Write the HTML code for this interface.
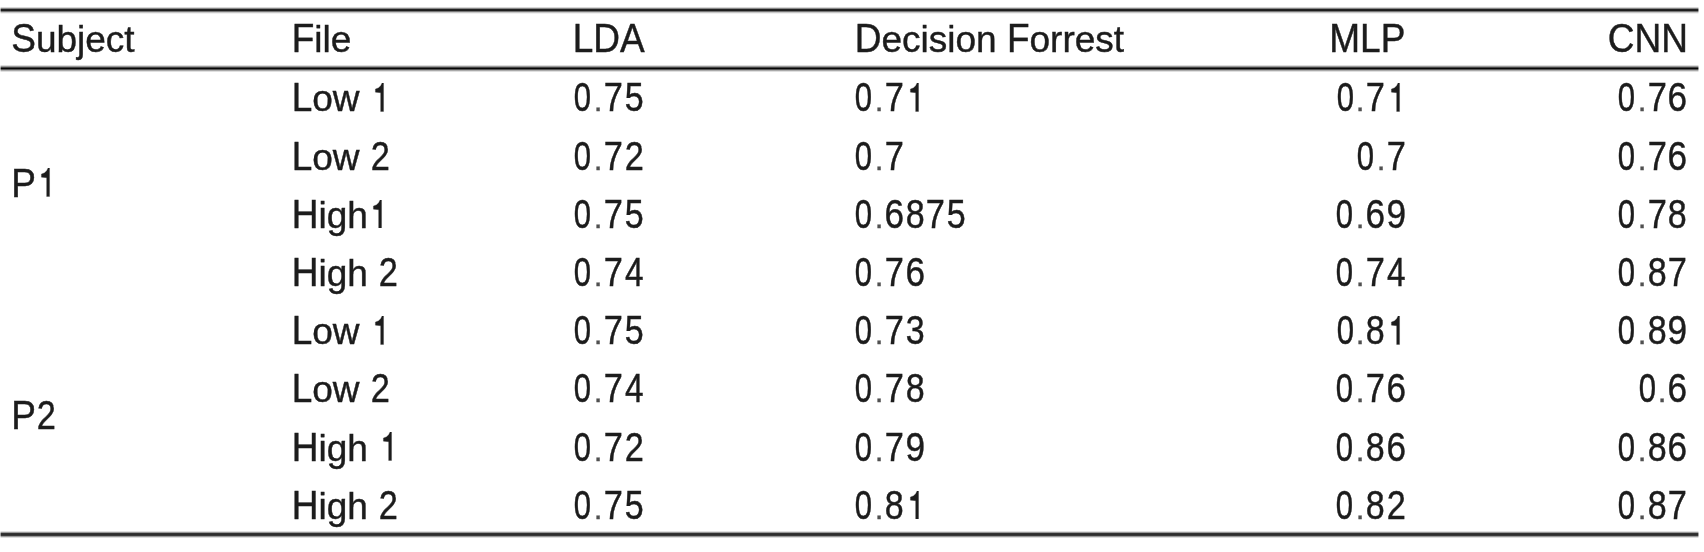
<!DOCTYPE html>
<html><head><meta charset="utf-8"><style>
html,body{margin:0;padding:0;background:#fff;width:1704px;height:552px;overflow:hidden;position:relative}
.t{position:absolute;font-family:"Liberation Sans",sans-serif;font-size:37px;line-height:40px;color:#1c1c1c;white-space:nowrap;font-kerning:none;-webkit-text-stroke:0.42px #1c1c1c;filter:blur(0.7px);}
.d{color:#505050;-webkit-text-stroke-color:#505050;display:inline-block;transform:scale(0.85);transform-origin:50% 31.320px}
.g,.c{display:inline-block;transform-origin:50% 32.820px}
.g{transform:scale(var(--sx),1.08)}
.c{transform:scaleY(var(--sy,1.075))}
.one{display:inline-block;vertical-align:-0.4px;fill:#1c1c1c;stroke:#1c1c1c;stroke-width:13.9px}
.ln{position:absolute;left:0;width:1699px}
.ov{position:absolute;width:1px;background:rgba(255,255,255,0.55)}
</style></head><body>
<div class="ln" style="top:7px;height:7px;background:linear-gradient(to bottom, rgb(216,216,216) 0px, rgb(216,216,216) 1px, rgb(136,136,136) 1px, rgb(136,136,136) 2px, rgb(34,34,34) 2px, rgb(34,34,34) 3px, rgb(30,30,30) 3px, rgb(30,30,30) 4px, rgb(119,119,119) 4px, rgb(119,119,119) 5px, rgb(200,200,200) 5px, rgb(200,200,200) 6px, rgb(240,240,240) 6px, rgb(240,240,240) 7px)"></div>
<div class="ov" style="left:0;top:7px;height:7px"></div>
<div class="ov" style="left:1698px;top:7px;height:7px"></div>
<div class="ln" style="top:65px;height:7px;background:linear-gradient(to bottom, rgb(220,220,220) 0px, rgb(220,220,220) 1px, rgb(153,153,153) 1px, rgb(153,153,153) 2px, rgb(68,68,68) 2px, rgb(68,68,68) 3px, rgb(5,5,5) 3px, rgb(5,5,5) 4px, rgb(85,85,85) 4px, rgb(85,85,85) 5px, rgb(170,170,170) 5px, rgb(170,170,170) 6px, rgb(224,224,224) 6px, rgb(224,224,224) 7px)"></div>
<div class="ov" style="left:0;top:65px;height:7px"></div>
<div class="ov" style="left:1698px;top:65px;height:7px"></div>
<div class="ln" style="top:531px;height:7px;background:linear-gradient(to bottom, rgb(224,224,224) 0px, rgb(224,224,224) 1px, rgb(153,153,153) 1px, rgb(153,153,153) 2px, rgb(51,51,51) 2px, rgb(51,51,51) 3px, rgb(44,44,44) 3px, rgb(44,44,44) 4px, rgb(58,58,58) 4px, rgb(58,58,58) 5px, rgb(153,153,153) 5px, rgb(153,153,153) 6px, rgb(221,221,221) 6px, rgb(221,221,221) 7px)"></div>
<div class="ov" style="left:0;top:531px;height:7px"></div>
<div class="ov" style="left:1698px;top:531px;height:7px"></div>
<div class="t" style="left:11.20px;top:20.18px"><span class="c">S</span>ubject</div>
<div class="t" style="left:291.70px;top:20.18px"><span class="c">F</span>ile</div>
<div class="t" style="left:572.70px;top:20.18px"><span class="c">L</span><span class="c">D</span><span class="c">A</span></div>
<div class="t" style="left:854.70px;top:20.18px"><span class="c">D</span>ecision <span class="c">F</span>orrest</div>
<div class="t" style="right:298.70px;top:20.18px"><span class="c">M</span><span class="c">L</span><span class="c">P</span></div>
<div class="t" style="right:16.00px;top:20.18px"><span class="c">C</span><span class="c">N</span><span class="c">N</span></div>
<div class="t" style="left:291.70px;top:79.38px"><span class="c">L</span>ow <svg class="one" width="20.578" height="28.604" viewBox="0 0 1139 1466" preserveAspectRatio="none"><path d="M750,1466 L590,1466 L590,500 Q440,475 300,470 L300,310 Q470,280 595,135 L665,0 L750,0 Z"/></svg></div>
<div class="t" style="left:572.20px;top:79.38px"><span class="g" style="--sx:0.84">0</span><span class="d">.</span><span class="g" style="--sx:0.93">7</span><span class="g" style="--sx:0.92">5</span></div>
<div class="t" style="left:853.30px;top:79.38px"><span class="g" style="--sx:0.84">0</span><span class="d">.</span><span class="g" style="--sx:0.93">7</span><svg class="one" width="20.578" height="28.604" viewBox="0 0 1139 1466" preserveAspectRatio="none"><path d="M750,1466 L590,1466 L590,500 Q440,475 300,470 L300,310 Q470,280 595,135 L665,0 L750,0 Z"/></svg></div>
<div class="t" style="right:297.50px;top:79.38px"><span class="g" style="--sx:0.84">0</span><span class="d">.</span><span class="g" style="--sx:0.93">7</span><svg class="one" width="20.578" height="28.604" viewBox="0 0 1139 1466" preserveAspectRatio="none"><path d="M750,1466 L590,1466 L590,500 Q440,475 300,470 L300,310 Q470,280 595,135 L665,0 L750,0 Z"/></svg></div>
<div class="t" style="right:16.00px;top:79.38px"><span class="g" style="--sx:0.84">0</span><span class="d">.</span><span class="g" style="--sx:0.93">7</span><span class="g" style="--sx:0.95">6</span></div>
<div class="t" style="left:291.70px;top:137.58px"><span class="c">L</span>ow <span class="g" style="--sx:0.93">2</span></div>
<div class="t" style="left:572.20px;top:137.58px"><span class="g" style="--sx:0.84">0</span><span class="d">.</span><span class="g" style="--sx:0.93">7</span><span class="g" style="--sx:0.93">2</span></div>
<div class="t" style="left:853.30px;top:137.58px"><span class="g" style="--sx:0.84">0</span><span class="d">.</span><span class="g" style="--sx:0.93">7</span></div>
<div class="t" style="right:297.50px;top:137.58px"><span class="g" style="--sx:0.84">0</span><span class="d">.</span><span class="g" style="--sx:0.93">7</span></div>
<div class="t" style="right:16.00px;top:137.58px"><span class="g" style="--sx:0.84">0</span><span class="d">.</span><span class="g" style="--sx:0.93">7</span><span class="g" style="--sx:0.95">6</span></div>
<div class="t" style="left:291.70px;top:195.78px"><span class="c">H</span>igh<svg class="one" width="20.578" height="28.604" viewBox="0 0 1139 1466" preserveAspectRatio="none"><path d="M750,1466 L590,1466 L590,500 Q440,475 300,470 L300,310 Q470,280 595,135 L665,0 L750,0 Z"/></svg></div>
<div class="t" style="left:572.20px;top:195.78px"><span class="g" style="--sx:0.84">0</span><span class="d">.</span><span class="g" style="--sx:0.93">7</span><span class="g" style="--sx:0.92">5</span></div>
<div class="t" style="left:853.30px;top:195.78px"><span class="g" style="--sx:0.84">0</span><span class="d">.</span><span class="g" style="--sx:0.95">6</span><span class="g" style="--sx:0.92">8</span><span class="g" style="--sx:0.93">7</span><span class="g" style="--sx:0.92">5</span></div>
<div class="t" style="right:297.50px;top:195.78px"><span class="g" style="--sx:0.84">0</span><span class="d">.</span><span class="g" style="--sx:0.95">6</span><span class="g" style="--sx:0.95">9</span></div>
<div class="t" style="right:16.00px;top:195.78px"><span class="g" style="--sx:0.84">0</span><span class="d">.</span><span class="g" style="--sx:0.93">7</span><span class="g" style="--sx:0.92">8</span></div>
<div class="t" style="left:291.70px;top:253.98px"><span class="c">H</span>igh <span class="g" style="--sx:0.93">2</span></div>
<div class="t" style="left:572.20px;top:253.98px"><span class="g" style="--sx:0.84">0</span><span class="d">.</span><span class="g" style="--sx:0.93">7</span><span class="g" style="--sx:0.9">4</span></div>
<div class="t" style="left:853.30px;top:253.98px"><span class="g" style="--sx:0.84">0</span><span class="d">.</span><span class="g" style="--sx:0.93">7</span><span class="g" style="--sx:0.95">6</span></div>
<div class="t" style="right:297.50px;top:253.98px"><span class="g" style="--sx:0.84">0</span><span class="d">.</span><span class="g" style="--sx:0.93">7</span><span class="g" style="--sx:0.9">4</span></div>
<div class="t" style="right:16.00px;top:253.98px"><span class="g" style="--sx:0.84">0</span><span class="d">.</span><span class="g" style="--sx:0.92">8</span><span class="g" style="--sx:0.93">7</span></div>
<div class="t" style="left:291.70px;top:312.18px"><span class="c">L</span>ow <svg class="one" width="20.578" height="28.604" viewBox="0 0 1139 1466" preserveAspectRatio="none"><path d="M750,1466 L590,1466 L590,500 Q440,475 300,470 L300,310 Q470,280 595,135 L665,0 L750,0 Z"/></svg></div>
<div class="t" style="left:572.20px;top:312.18px"><span class="g" style="--sx:0.84">0</span><span class="d">.</span><span class="g" style="--sx:0.93">7</span><span class="g" style="--sx:0.92">5</span></div>
<div class="t" style="left:853.30px;top:312.18px"><span class="g" style="--sx:0.84">0</span><span class="d">.</span><span class="g" style="--sx:0.93">7</span><span class="g" style="--sx:0.92">3</span></div>
<div class="t" style="right:297.50px;top:312.18px"><span class="g" style="--sx:0.84">0</span><span class="d">.</span><span class="g" style="--sx:0.92">8</span><svg class="one" width="20.578" height="28.604" viewBox="0 0 1139 1466" preserveAspectRatio="none"><path d="M750,1466 L590,1466 L590,500 Q440,475 300,470 L300,310 Q470,280 595,135 L665,0 L750,0 Z"/></svg></div>
<div class="t" style="right:16.00px;top:312.18px"><span class="g" style="--sx:0.84">0</span><span class="d">.</span><span class="g" style="--sx:0.92">8</span><span class="g" style="--sx:0.95">9</span></div>
<div class="t" style="left:291.70px;top:370.38px"><span class="c">L</span>ow <span class="g" style="--sx:0.93">2</span></div>
<div class="t" style="left:572.20px;top:370.38px"><span class="g" style="--sx:0.84">0</span><span class="d">.</span><span class="g" style="--sx:0.93">7</span><span class="g" style="--sx:0.9">4</span></div>
<div class="t" style="left:853.30px;top:370.38px"><span class="g" style="--sx:0.84">0</span><span class="d">.</span><span class="g" style="--sx:0.93">7</span><span class="g" style="--sx:0.92">8</span></div>
<div class="t" style="right:297.50px;top:370.38px"><span class="g" style="--sx:0.84">0</span><span class="d">.</span><span class="g" style="--sx:0.93">7</span><span class="g" style="--sx:0.95">6</span></div>
<div class="t" style="right:16.00px;top:370.38px"><span class="g" style="--sx:0.84">0</span><span class="d">.</span><span class="g" style="--sx:0.95">6</span></div>
<div class="t" style="left:291.70px;top:428.58px"><span class="c">H</span>igh <svg class="one" width="20.578" height="28.604" viewBox="0 0 1139 1466" preserveAspectRatio="none"><path d="M750,1466 L590,1466 L590,500 Q440,475 300,470 L300,310 Q470,280 595,135 L665,0 L750,0 Z"/></svg></div>
<div class="t" style="left:572.20px;top:428.58px"><span class="g" style="--sx:0.84">0</span><span class="d">.</span><span class="g" style="--sx:0.93">7</span><span class="g" style="--sx:0.93">2</span></div>
<div class="t" style="left:853.30px;top:428.58px"><span class="g" style="--sx:0.84">0</span><span class="d">.</span><span class="g" style="--sx:0.93">7</span><span class="g" style="--sx:0.95">9</span></div>
<div class="t" style="right:297.50px;top:428.58px"><span class="g" style="--sx:0.84">0</span><span class="d">.</span><span class="g" style="--sx:0.92">8</span><span class="g" style="--sx:0.95">6</span></div>
<div class="t" style="right:16.00px;top:428.58px"><span class="g" style="--sx:0.84">0</span><span class="d">.</span><span class="g" style="--sx:0.92">8</span><span class="g" style="--sx:0.95">6</span></div>
<div class="t" style="left:291.70px;top:486.78px"><span class="c">H</span>igh <span class="g" style="--sx:0.93">2</span></div>
<div class="t" style="left:572.20px;top:486.78px"><span class="g" style="--sx:0.84">0</span><span class="d">.</span><span class="g" style="--sx:0.93">7</span><span class="g" style="--sx:0.92">5</span></div>
<div class="t" style="left:853.30px;top:486.78px"><span class="g" style="--sx:0.84">0</span><span class="d">.</span><span class="g" style="--sx:0.92">8</span><svg class="one" width="20.578" height="28.604" viewBox="0 0 1139 1466" preserveAspectRatio="none"><path d="M750,1466 L590,1466 L590,500 Q440,475 300,470 L300,310 Q470,280 595,135 L665,0 L750,0 Z"/></svg></div>
<div class="t" style="right:297.50px;top:486.78px"><span class="g" style="--sx:0.84">0</span><span class="d">.</span><span class="g" style="--sx:0.92">8</span><span class="g" style="--sx:0.93">2</span></div>
<div class="t" style="right:16.00px;top:486.78px"><span class="g" style="--sx:0.84">0</span><span class="d">.</span><span class="g" style="--sx:0.92">8</span><span class="g" style="--sx:0.93">7</span></div>
<div class="t" style="left:11.20px;top:164.58px;--sy:1.1"><span class="c">P</span><svg class="one" width="20.578" height="28.604" viewBox="0 0 1139 1466" preserveAspectRatio="none"><path d="M750,1466 L590,1466 L590,500 Q440,475 300,470 L300,310 Q470,280 595,135 L665,0 L750,0 Z"/></svg></div>
<div class="t" style="left:11.20px;top:396.98px;--sy:1.1"><span class="c">P</span><span class="g" style="--sx:0.93">2</span></div>
</body></html>
